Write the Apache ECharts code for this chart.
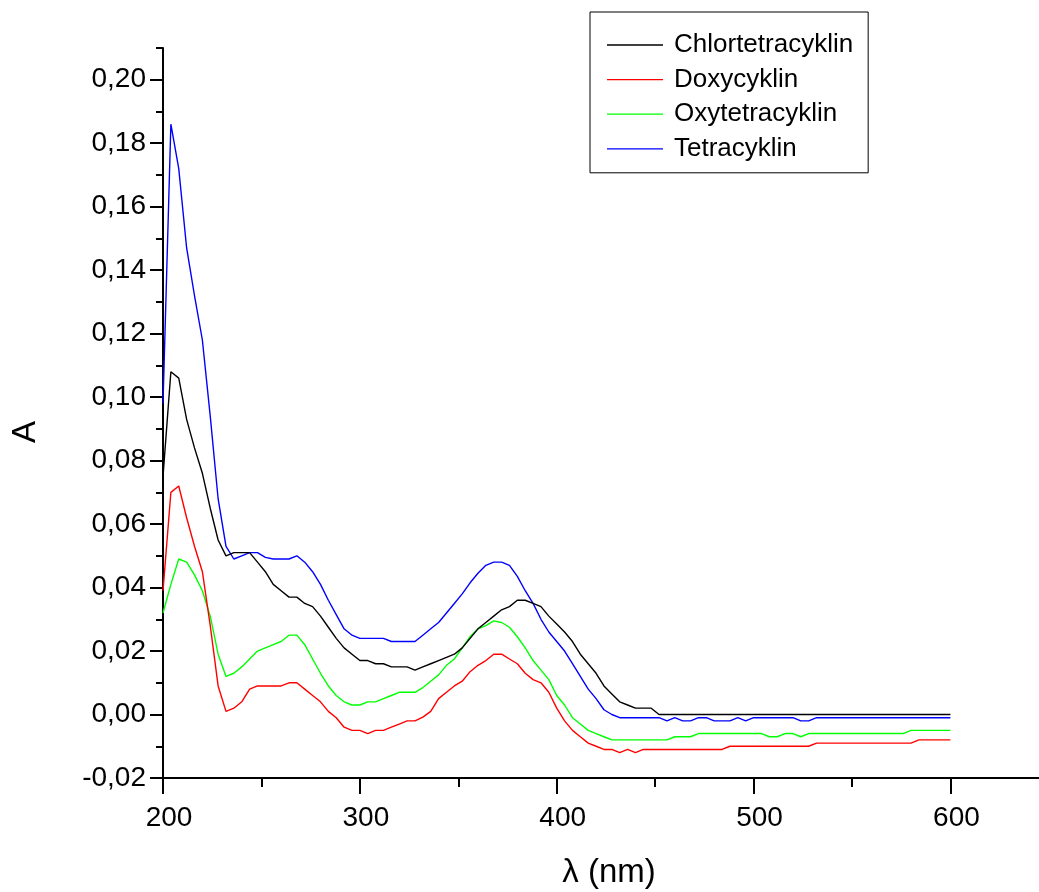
<!DOCTYPE html>
<html><head><meta charset="utf-8">
<script src="https://cdn.jsdelivr.net/npm/echarts@6/dist/echarts.min.js"></script>
<style>html,body{margin:0;padding:0;background:#fff}#c{width:1039px;height:892px}</style>
</head><body><div id="c"></div><script>
// ---- data ----
const seriesNames = ['Chlortetracyklin', 'Doxycyklin', 'Oxytetracyklin', 'Tetracyklin'];
const seriesColors = ['#000000', '#ff0000', '#00ff00', '#0000ff'];

const xMajorTicks = [200, 300, 400, 500, 600];
const xMinorTicks = [250, 350, 450, 550];
const yMajorTicks = [-0.02, 0, 0.02, 0.04, 0.06, 0.08, 0.10, 0.12, 0.14, 0.16, 0.18, 0.20];
const yMinorTicks = [-0.01, 0.01, 0.03, 0.05, 0.07, 0.09, 0.11, 0.13, 0.15, 0.17, 0.19, 0.21];

const wlChlor = [200,204,208,212,216,220,224,228,232,236,240,244,248,252,256,260,264,268,272,276,280,284,288,292,296,300,304,308,312,316,320,324,328,332,336,340,344,348,352,356,360,364,368,372,376,380,384,388,392,396,400,404,408,412,416,420,424,428,432,436,440,444,448,452,600];
const absChlor = [0.075,0.108,0.106,0.093,0.084,0.076,0.065,0.055,0.050,0.051,0.051,0.051,0.048,0.045,0.041,0.039,0.037,0.037,0.035,0.034,0.031,0.0275,0.024,0.021,0.019,0.017,0.017,0.016,0.016,0.015,0.015,0.015,0.014,0.015,0.016,0.017,0.018,0.019,0.021,0.024,0.027,0.029,0.031,0.033,0.034,0.036,0.036,0.035,0.034,0.031,0.0285,0.026,0.023,0.019,0.016,0.013,0.009,0.0065,0.004,0.003,0.002,0.002,0.002,0.0,0.0];

const wlDoxy = [200,204,208,212,216,220,224,228,232,236,240,244,248,252,256,260,264,268,272,276,280,284,288,292,296,300,304,308,312,316,320,324,328,332,336,340,344,348,352,356,360,364,368,372,376,380,384,388,392,396,400,404,408,412,416,420,424,428,432,436,440,444,484,488,528,532,580,584,600];
const absDoxy = [0.039,0.070,0.072,0.062,0.053,0.045,0.028,0.009,0.001,0.002,0.004,0.008,0.009,0.009,0.009,0.009,0.010,0.010,0.008,0.006,0.004,0.001,-0.001,-0.004,-0.005,-0.005,-0.006,-0.005,-0.005,-0.004,-0.003,-0.002,-0.002,-0.0008,0.001,0.005,0.007,0.009,0.0105,0.0135,0.0155,0.017,0.019,0.019,0.0175,0.016,0.013,0.011,0.010,0.007,0.002,-0.002,-0.005,-0.007,-0.009,-0.010,-0.011,-0.011,-0.012,-0.011,-0.012,-0.011,-0.011,-0.010,-0.010,-0.009,-0.009,-0.008,-0.008];

const wlOxy = [200,204,208,212,216,220,224,228,232,236,240,244,248,252,256,260,264,268,272,276,280,284,288,292,296,300,304,308,312,316,320,324,328,332,336,340,344,348,352,356,360,364,368,372,376,380,384,388,392,396,400,404,408,412,416,420,424,428,456,460,468,472,504,508,512,516,520,524,528,576,580,600];
const absOxy = [0.032,0.041,0.049,0.048,0.044,0.039,0.031,0.019,0.012,0.013,0.015,0.0175,0.020,0.021,0.022,0.023,0.025,0.025,0.022,0.0175,0.013,0.009,0.006,0.004,0.003,0.003,0.004,0.004,0.005,0.006,0.007,0.007,0.007,0.0085,0.0105,0.0125,0.0155,0.0175,0.021,0.0245,0.027,0.028,0.0295,0.029,0.0275,0.0245,0.021,0.017,0.014,0.011,0.006,0.003,-0.001,-0.003,-0.005,-0.006,-0.007,-0.008,-0.008,-0.007,-0.007,-0.006,-0.006,-0.007,-0.007,-0.006,-0.006,-0.007,-0.006,-0.006,-0.005,-0.005];

const wlTetra = [200,204,208,212,216,220,224,228,232,236,240,244,248,252,256,260,264,268,272,276,280,284,288,292,296,300,304,308,312,316,320,324,328,332,336,340,344,348,352,356,360,364,368,372,376,380,384,388,392,396,400,404,408,412,416,420,424,428,432,452,456,460,464,468,472,476,480,484,488,492,496,500,520,524,528,532,600];
const absTetra = [0.098,0.186,0.172,0.147,0.132,0.118,0.094,0.068,0.053,0.049,0.050,0.051,0.051,0.0495,0.049,0.049,0.049,0.050,0.048,0.045,0.041,0.036,0.0315,0.027,0.025,0.024,0.024,0.024,0.024,0.023,0.023,0.023,0.023,0.025,0.027,0.029,0.032,0.035,0.038,0.0415,0.0445,0.047,0.048,0.048,0.047,0.0435,0.039,0.035,0.030,0.026,0.023,0.020,0.016,0.012,0.008,0.005,0.0015,0.0,-0.001,-0.001,-0.002,-0.001,-0.002,-0.002,-0.001,-0.001,-0.002,-0.002,-0.002,-0.001,-0.002,-0.001,-0.001,-0.002,-0.002,-0.001,-0.001];

const seriesWl = [wlChlor, wlDoxy, wlOxy, wlTetra];
const seriesAbs = [absChlor, absDoxy, absOxy, absTetra];

// ---- chart ----
const FONT = '"Liberation Sans", Arial, sans-serif';
const black = '#000';
const chart = echarts.init(document.getElementById('c'), null, {renderer: 'canvas'});

const series = seriesNames.map((name, i) => ({
  name: name,
  type: 'line',
  xAxisIndex: 0,
  yAxisIndex: 0,
  data: seriesWl[i].map((w, j) => [w, seriesAbs[i][j]]),
  symbol: 'none',
  showSymbol: false,
  smooth: false,
  color: seriesColors[i],
  lineStyle: {color: seriesColors[i], width: 1.4},
  itemStyle: {color: seriesColors[i]},
  z: 10 - i
}));

const fmtY = v => v.toFixed(2).replace('.', ',');

chart.setOption({
  animation: false,
  backgroundColor: '#fff',
  grid: {left: 163, top: 48, right: 0, bottom: 114, containLabel: false, outerBoundsMode: 'none'},
  legend: {
    orient: 'vertical', left: 590, top: 12,
    padding: [20, 15, 11, 17],
    borderColor: black, borderWidth: 1, borderRadius: 0,
    icon: 'rect',
    itemWidth: 56, itemHeight: 1.3, itemGap: 8.6,
    textStyle: {fontFamily: FONT, fontSize: 26, color: black, lineHeight: 26, padding: [0, 0, 0, 6]},
    data: seriesNames
  },
  xAxis: [{
    type: 'value', min: 200, max: 645, interval: 50, position: 'bottom',
    name: 'λ (nm)', nameLocation: 'middle', nameGap: 78,
    nameTextStyle: {fontFamily: FONT, fontSize: 33, color: black, padding: [0, 0, 0, 16]},
    axisLine: {show: true, onZero: false, lineStyle: {color: black, width: 2}},
    axisTick: {show: true, customValues: xMajorTicks, length: 16, lineStyle: {color: black, width: 2}},
    axisLabel: {show: true, customValues: xMajorTicks, margin: 26, fontFamily: FONT, fontSize: 28, color: black, padding: [0, 0, 0, 12]},
    splitLine: {show: false}
  }, {
    type: 'value', min: 200, max: 645, interval: 50, position: 'bottom',
    axisLine: {show: false, onZero: false},
    axisTick: {show: true, customValues: xMinorTicks, length: 9, lineStyle: {color: black, width: 2}},
    axisLabel: {show: false},
    splitLine: {show: false}
  }],
  yAxis: [{
    type: 'value', min: -0.02, max: 0.21, interval: 0.01, position: 'left',
    name: 'A', nameLocation: 'middle', nameGap: 121, nameRotate: 90,
    nameTextStyle: {fontFamily: FONT, fontSize: 33, color: black, padding: [0, 38, 0, 0]},
    axisLine: {show: true, onZero: false, lineStyle: {color: black, width: 2}},
    axisTick: {show: true, customValues: yMajorTicks, length: 13, lineStyle: {color: black, width: 2}},
    axisLabel: {show: true, customValues: yMajorTicks, margin: 17, fontFamily: FONT, fontSize: 28, color: black, formatter: fmtY},
    splitLine: {show: false}
  }, {
    type: 'value', min: -0.02, max: 0.21, interval: 0.01, position: 'left',
    axisLine: {show: false, onZero: false},
    axisTick: {show: true, customValues: yMinorTicks, length: 7, lineStyle: {color: black, width: 2}},
    axisLabel: {show: false},
    splitLine: {show: false}
  }],
  series: series
});
</script></body></html>
